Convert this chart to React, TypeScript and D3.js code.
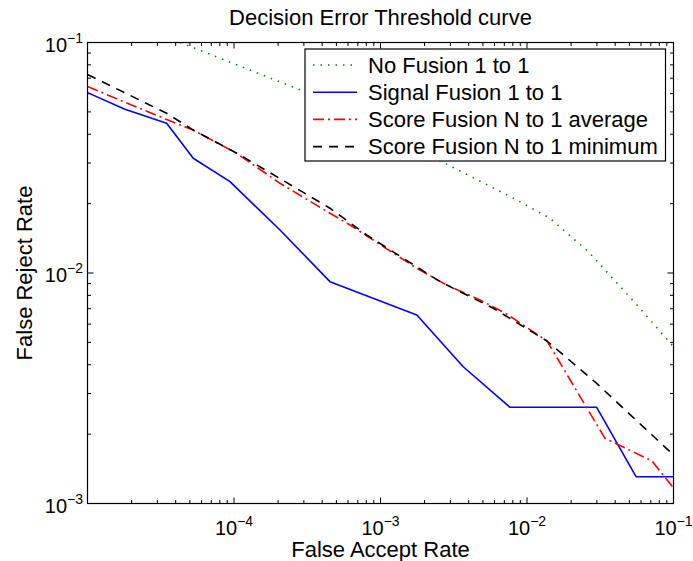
import React from "react";
import * as d3 from "d3";

const noFusionFAR = [4.28e-5, 3.05e-4, 8.51e-3, 1.436e-2, 2.62e-2, 5.64e-2, 1e-1];
const noFusionFRR = [0.1, 0.0612, 0.02074, 0.01727, 0.01238, 0.00726, 0.00479];

const signalFAR = [1e-5, 1.8e-5, 3.47e-5, 5.27e-5, 9.39e-5, 2.06e-4, 4.52e-4, 1.77e-3, 3.67e-3, 7.66e-3, 2.99e-2, 5.55e-2, 1e-1];
const signalFRR = [0.0606, 0.0513, 0.0446, 0.03145, 0.0249, 0.01537, 0.00917, 0.00657, 0.00392, 0.002615, 0.002615, 0.001307, 0.001307];

const avgFAR = [1e-5, 3.47e-5, 5.25e-5, 1.04e-4, 2.06e-4, 4.52e-4, 6.19e-4, 1.77e-3, 2.83e-3, 4.77e-3, 7.26e-3, 1.369e-2, 3.4e-2, 7.13e-2, 1e-1];
const avgFRR = [0.0644, 0.0463, 0.0417, 0.0331, 0.0245, 0.01816, 0.01615, 0.01048, 0.00887, 0.00764, 0.00664, 0.00507, 0.00192, 0.00153, 0.001167];

const minFAR = [1e-5, 3.47e-5, 5.27e-5, 1.1e-4, 4.52e-4, 8.05e-4, 2.55e-3, 5.89e-3, 1.369e-2, 2.99e-2, 1e-1];
const minFRR = [0.0726, 0.0493, 0.0417, 0.0325, 0.0191, 0.01462, 0.00917, 0.00703, 0.00507, 0.00332, 0.001623];

const xTickExps = [-4, -3, -2, -1];
const yTickExps = [-3, -2, -1];

const seriesNames = [
  "No Fusion 1 to 1",
  "Signal Fusion 1 to 1",
  "Score Fusion N to 1 average",
  "Score Fusion N to 1 minimum",
];

const W = 693, H = 561;
const L = 87.5, R = 673.5, T = 42.5, B = 503.5;
const FONT = "'Liberation Sans', Arial, Helvetica, sans-serif";

export default function App() {
  const x = d3.scaleLog().domain([1e-5, 1e-1]).range([L, R]);
  const y = d3.scaleLog().domain([1e-3, 1e-1]).range([B, T]);

  const series = [
    { name: seriesNames[0], xs: noFusionFAR, ys: noFusionFRR, color: "#008000", dash: "1.5,6" },
    { name: seriesNames[1], xs: signalFAR, ys: signalFRR, color: "#0000ff", dash: null },
    { name: seriesNames[2], xs: avgFAR, ys: avgFRR, color: "#ff0000", dash: "11,4,2,4" },
    { name: seriesNames[3], xs: minFAR, ys: minFRR, color: "#000000", dash: "9,7" },
  ];

  const line = d3
    .line<[number, number]>()
    .x((d) => x(d[0]))
    .y((d) => y(d[1]));

  const xMinor: number[] = [];
  for (let e = -5; e <= -2; e++) for (let m = 2; m <= 9; m++) xMinor.push(m * Math.pow(10, e));
  const yMinor: number[] = [];
  for (let e = -3; e <= -2; e++) for (let m = 2; m <= 9; m++) yMinor.push(m * Math.pow(10, e));
  const xMajor = xTickExps.map((e) => Math.pow(10, e));
  const yMajor = yTickExps.map((e) => Math.pow(10, e));

  const major = 6, minor = 3.5;

  const legX = 305, legY = 49, legW = 360.5, legH = 112;
  const rowY = (i: number) => 65 + i * 27.2;

  return (
    <svg
      width={W}
      height={H}
      style={{ position: "absolute", left: 0, top: 0, background: "#fff" }}
      fontFamily={FONT}
    >
      <rect x={0} y={0} width={W} height={H} fill="#fff" />
      <defs>
        <clipPath id="plotclip">
          <rect x={L} y={T} width={R - L} height={B - T} />
        </clipPath>
      </defs>

      {/* ticks */}
      <g stroke="#000" strokeWidth={1}>
        {xMinor.map((v, i) => (
          <g key={"xm" + i}>
            <line x1={x(v)} x2={x(v)} y1={B} y2={B - minor} />
            <line x1={x(v)} x2={x(v)} y1={T} y2={T + minor} />
          </g>
        ))}
        {xMajor.map((v, i) => (
          <g key={"xM" + i}>
            <line x1={x(v)} x2={x(v)} y1={B} y2={B - major} />
            <line x1={x(v)} x2={x(v)} y1={T} y2={T + major} />
          </g>
        ))}
        {yMinor.map((v, i) => (
          <g key={"ym" + i}>
            <line x1={L} x2={L + minor} y1={y(v)} y2={y(v)} />
            <line x1={R} x2={R - minor} y1={y(v)} y2={y(v)} />
          </g>
        ))}
        {yMajor.map((v, i) => (
          <g key={"yM" + i}>
            <line x1={L} x2={L + major} y1={y(v)} y2={y(v)} />
            <line x1={R} x2={R - major} y1={y(v)} y2={y(v)} />
          </g>
        ))}
      </g>

      {/* data */}
      <g clipPath="url(#plotclip)" fill="none">
        {series.map((s, i) => (
          <path
            key={i}
            d={line(s.xs.map((v, j) => [v, s.ys[j]] as [number, number])) || ""}
            stroke={s.color}
            strokeWidth={1.6}
            strokeDasharray={s.dash || undefined}
            strokeLinejoin="round"
          />
        ))}
      </g>

      {/* frame */}
      <rect x={L} y={T} width={R - L} height={B - T} fill="none" stroke="#000" strokeWidth={1.2} />

      {/* x tick labels */}
      {xTickExps.map((e, i) => (
        <text key={"xl" + i} x={x(Math.pow(10, e))} y={535} textAnchor="middle" fontSize={20} fill="#000">
          10
          <tspan fontSize={14} dy={-9}>
            {"\u2212" + Math.abs(e)}
          </tspan>
        </text>
      ))}

      {/* y tick labels */}
      {yTickExps.map((e, i) => (
        <text key={"yl" + i} x={83} y={y(Math.pow(10, e)) + 9.2} textAnchor="end" fontSize={20} fill="#000">
          10
          <tspan fontSize={14} dy={-9}>
            {"\u2212" + Math.abs(e)}
          </tspan>
        </text>
      ))}

      {/* title and labels */}
      <text x={(L + R) / 2} y={25} textAnchor="middle" fontSize={22} fill="#000">
        Decision Error Threshold curve
      </text>
      <text x={(L + R) / 2} y={557} textAnchor="middle" fontSize={22} fill="#000">
        False Accept Rate
      </text>
      <text
        transform={`translate(31.5, ${(T + B) / 2}) rotate(-90)`}
        textAnchor="middle"
        fontSize={22}
        fill="#000"
      >
        False Reject Rate
      </text>

      {/* legend */}
      <rect x={legX} y={legY} width={legW} height={legH} fill="#fff" stroke="#000" strokeWidth={1.2} />
      {series.map((s, i) => (
        <g key={"lg" + i}>
          <line
            x1={313}
            x2={357}
            y1={rowY(i)}
            y2={rowY(i)}
            stroke={s.color}
            strokeWidth={1.6}
            strokeDasharray={s.dash || undefined}
          />
          <text x={368} y={rowY(i) + 7.8} fontSize={22} fill="#000">
            {s.name}
          </text>
        </g>
      ))}
    </svg>
  );
}
